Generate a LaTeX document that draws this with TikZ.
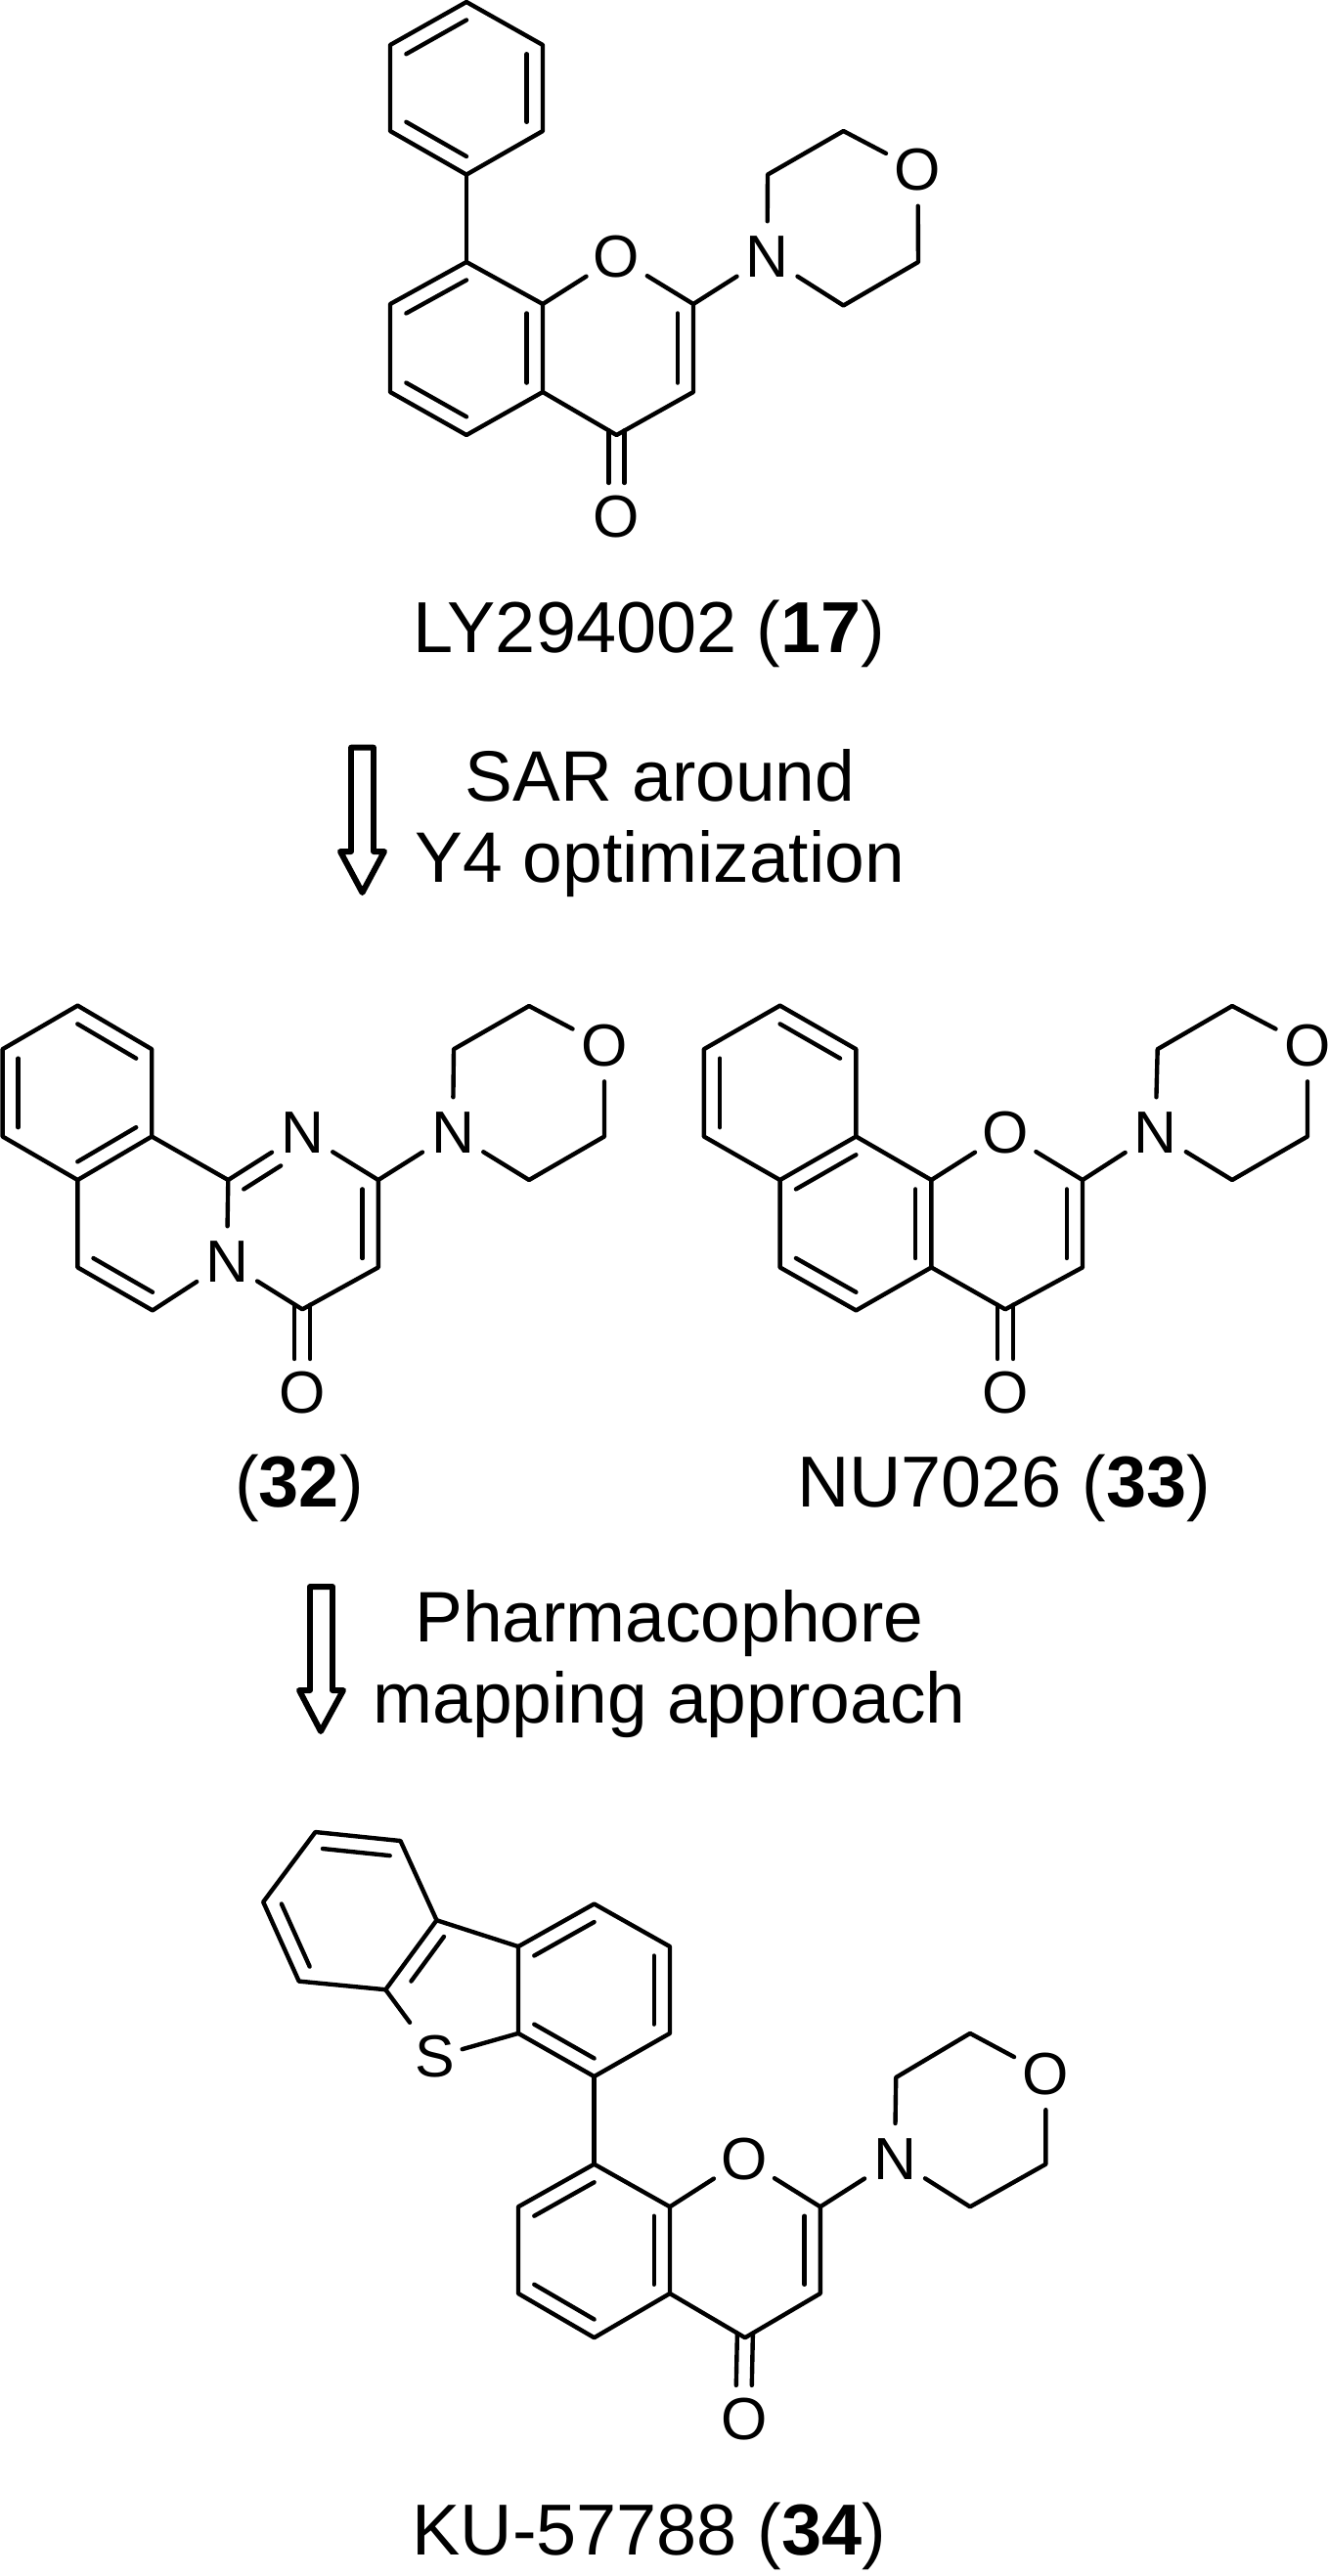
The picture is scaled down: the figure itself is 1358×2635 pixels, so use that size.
\documentclass[tikz,border=0pt]{standalone}
\usepackage{fontspec}
\setmainfont{Liberation Sans}
\usetikzlibrary{calc}

\tikzset{
	bond/.style={line width=1.25pt, line cap=round, line join=round},
	atom/.style={circle, inner sep=0pt, minimum size=0.72cm, font=\fontsize{17.3}{20}\selectfont},
	cpdname/.style={anchor=base, inner sep=0pt, font=\fontsize{21}{24}\selectfont},
	stepnote/.style={align=center, inner sep=0pt, font=\fontsize{20.8}{23.6}\selectfont},
	hollow/.style={line width=1.7pt, line join=round}
}

% inner line of a double bond, pulled towards the ring centre
\newcommand{\dblbond}[4][]{\draw[bond,#1] ($(#2)!0.21!(#4)$) -- ($(#3)!0.21!(#4)$);}
% carbonyl, two lines from the ring carbon to the oxygen
\newcommand{\cobond}[2]{
	\draw[bond] ($(#1)+(-8,-4.6)$) -- ($(#2)+(-8,-35)$);
	\draw[bond] ($(#1)+(8,-4.6)$) -- ($(#2)+(8,-35)$);
}

\begin{document}
\begin{tikzpicture}[x=0.01cm, y=-0.01cm]
	\useasboundingbox (0,0) rectangle (1358,2635);

	% LY294002
	\coordinate (pa) at (477,2);
	\coordinate (pb) at (555,46);
	\coordinate (pc) at (555,134);
	\coordinate (pd) at (477,178.6);
	\coordinate (pe) at (399,134);
	\coordinate (pf) at (399,46);
	\coordinate (pz) at (477,90);
	\coordinate (aa) at (477,268);
	\coordinate (ab) at (555,311);
	\coordinate (ac) at (555,401);
	\coordinate (ad) at (477,445);
	\coordinate (ae) at (399,401);
	\coordinate (af) at (399,311);
	\coordinate (az) at (477,356);
	\coordinate (ca) at (709,311);
	\coordinate (cb) at (709,401);
	\coordinate (cc) at (630.5,445);
	\coordinate (cz) at (632,356);
	\coordinate (ma) at (785,178.6);
	\coordinate (mb) at (862.5,134);
	\coordinate (mc) at (939,268);
	\coordinate (md) at (862.5,312.5);
	\node[atom] (oa) at (630.5,263) {O};
	\node[atom] (ob) at (630.5,529) {O};
	\node[atom] (na) at (784.5,263) {N};
	\node[atom] (oc) at (938.5,174) {O};

	\draw[bond] (pa) -- (pb) -- (pc) -- (pd) -- (pe) -- (pf) -- cycle;
	\draw[bond] (pd) -- (aa);
	\draw[bond] (aa) -- (ab) -- (ac) -- (ad) -- (ae) -- (af) -- cycle;
	\draw[bond] (ab) -- (oa) -- (ca) -- (cb) -- (cc) -- (ac);
	\draw[bond] (ca) -- (na) -- (ma) -- (mb) -- (oc) -- (mc) -- (md) -- (na);
	\dblbond{pf}{pa}{pz}
	\dblbond{pb}{pc}{pz}
	\dblbond{pd}{pe}{pz}
	\dblbond{af}{aa}{az}
	\dblbond{ab}{ac}{az}
	\dblbond{ad}{ae}{az}
	\dblbond{ca}{cb}{cz}
	\cobond{cc}{ob}

	\node[cpdname] (namea) at (663.7,667) {LY294002 (\textbf{17})};

	\draw[hollow] (359,764.7) -- (382,764.7) -- (382,871) -- (393,871) -- (370.5,913) -- (348,871) -- (359,871) -- cycle;
	\node[stepnote] (notea) at (675,842) {SAR around\\Y4 optimization};

	% compound 32
	\coordinate (qa) at (79.4,1028.6);
	\coordinate (qb) at (155.2,1073.2);
	\coordinate (qc) at (155.2,1162.5);
	\coordinate (qd) at (79.4,1207);
	\coordinate (qe) at (2.6,1162.5);
	\coordinate (qf) at (2.6,1073.2);
	\coordinate (qz) at (79,1118);
	\coordinate (ra) at (79.4,1296.4);
	\coordinate (rb) at (156,1340.4);
	\coordinate (rc) at (233.3,1207);
	\coordinate (rz) at (156,1251.7);
	\coordinate (sa) at (386.8,1207);
	\coordinate (sb) at (386.8,1296.4);
	\coordinate (sc) at (309.2,1339.3);
	\coordinate (sz) at (309.6,1251.7);
	\coordinate (ta) at (464,1073.2);
	\coordinate (tb) at (541,1029);
	\coordinate (tc) at (618,1162.5);
	\coordinate (td) at (541,1207);
	\node[atom] (nb) at (232,1291) {N};
	\node[atom] (nc) at (309,1159) {N};
	\node[atom] (nd) at (463,1159) {N};
	\node[atom] (od) at (618,1069.6) {O};
	\node[atom] (oe) at (309.2,1425) {O};

	\draw[bond] (qa) -- (qb) -- (qc) -- (qd) -- (qe) -- (qf) -- cycle;
	\draw[bond] (qd) -- (ra) -- (rb) -- (nb) -- (rc) -- (qc);
	\draw[bond] (rc) -- (nc) -- (sa) -- (sb) -- (sc) -- (nb);
	\draw[bond] (sa) -- (nd) -- (ta) -- (tb) -- (od) -- (tc) -- (td) -- (nd);
	\dblbond{qa}{qb}{qz}
	\dblbond{qe}{qf}{qz}
	\dblbond{qc}{qd}{qz}
	\dblbond{ra}{rb}{rz}
	\dblbond[shorten >=0.26cm]{rc}{nc}{sz}
	\dblbond{sa}{sb}{sz}
	\cobond{sc}{oe}

	\node[cpdname] (nameb) at (306,1541) {(\textbf{32})};

	% NU7026
	\coordinate (ua) at (797.6,1028.6);
	\coordinate (ub) at (875.4,1073.2);
	\coordinate (uc) at (875.4,1162.5);
	\coordinate (ud) at (797.6,1207);
	\coordinate (ue) at (719.8,1162.5);
	\coordinate (uf) at (719.8,1073.2);
	\coordinate (uz) at (797.6,1118);
	\coordinate (va) at (797.6,1296.4);
	\coordinate (vb) at (875.4,1340.4);
	\coordinate (vc) at (952.4,1296.4);
	\coordinate (vd) at (952.4,1207);
	\coordinate (vz) at (875.4,1251.7);
	\coordinate (wa) at (1107,1207);
	\coordinate (wb) at (1107,1296.4);
	\coordinate (wc) at (1028,1339.3);
	\coordinate (wz) at (1029.5,1251.7);
	\coordinate (xa) at (1183.7,1073.2);
	\coordinate (xb) at (1260,1029);
	\coordinate (xc) at (1337,1162.5);
	\coordinate (xd) at (1260,1207);
	\node[atom] (of) at (1028,1159) {O};
	\node[atom] (og) at (1028,1425) {O};
	\node[atom] (ne) at (1181.5,1159) {N};
	\node[atom] (oh) at (1337,1069.6) {O};

	\draw[bond] (ua) -- (ub) -- (uc) -- (ud) -- (ue) -- (uf) -- cycle;
	\draw[bond] (ud) -- (va) -- (vb) -- (vc) -- (vd) -- (uc);
	\draw[bond] (vd) -- (of) -- (wa) -- (wb) -- (wc) -- (vc);
	\draw[bond] (wa) -- (ne) -- (xa) -- (xb) -- (oh) -- (xc) -- (xd) -- (ne);
	\dblbond{ua}{ub}{uz}
	\dblbond{ue}{uf}{uz}
	\dblbond{uc}{ud}{vz}
	\dblbond{va}{vb}{vz}
	\dblbond{vc}{vd}{vz}
	\dblbond{wa}{wb}{wz}
	\cobond{wc}{og}

	\node[cpdname] (namec) at (1026.5,1541) {NU7026 (\textbf{33})};

	\draw[hollow] (317,1623) -- (340,1623) -- (340,1729) -- (351,1729) -- (328,1771) -- (306,1729) -- (317,1729) -- cycle;
	\node[stepnote] (noteb) at (684.5,1702) {Pharmacophore\\mapping approach};

	% KU-57788
	\coordinate (ka) at (322.5,1874);
	\coordinate (kb) at (409.5,1883);
	\coordinate (kc) at (446.5,1964.2);
	\coordinate (kd) at (394.3,2035.2);
	\coordinate (ke) at (305.7,2026.6);
	\coordinate (kf) at (269.2,1945.5);
	\coordinate (kz) at (358,1955);
	\coordinate (kt) at (482,2044);
	\coordinate (la) at (530,2079.9);
	\coordinate (lb) at (530,1991.1);
	\coordinate (lc) at (607.6,1947.5);
	\coordinate (ld) at (685,1991.1);
	\coordinate (le) at (685,2079.9);
	\coordinate (lf) at (607.6,2124);
	\coordinate (lz) at (607.6,2035.7);
	\coordinate (ga) at (607.6,2213.7);
	\coordinate (gb) at (685,2257.3);
	\coordinate (gc) at (685,2346);
	\coordinate (gd) at (607.6,2391.2);
	\coordinate (ge) at (530,2346);
	\coordinate (gf) at (530,2257.3);
	\coordinate (gz) at (607.6,2302);
	\coordinate (ha) at (838.8,2257.3);
	\coordinate (hb) at (838.8,2346);
	\coordinate (hc) at (761.9,2391.2);
	\coordinate (hz) at (761.9,2302);
	\coordinate (ya) at (916.2,2125);
	\coordinate (yb) at (992,2079.9);
	\coordinate (yc) at (1069.4,2213.7);
	\coordinate (yd) at (992,2257.3);
	\node[atom] (sul) at (445,2104) {S};
	\node[atom] (oi) at (760.8,2208.7) {O};
	\node[atom] (oj) at (760.8,2474.9) {O};
	\node[atom] (nf) at (915,2208.7) {N};
	\node[atom] (ok) at (1069.4,2121.4) {O};

	\draw[bond] (ka) -- (kb) -- (kc) -- (kd) -- (ke) -- (kf) -- cycle;
	\draw[bond] (kc) -- (lb);
	\draw[bond, shorten >=0.07cm] (kd) -- (sul);
	\draw[bond, shorten <=-0.08cm] (sul) -- (la);
	\draw[bond] (la) -- (lb) -- (lc) -- (ld) -- (le) -- (lf) -- cycle;
	\draw[bond] (lf) -- (ga);
	\draw[bond] (ga) -- (gb) -- (gc) -- (gd) -- (ge) -- (gf) -- cycle;
	\draw[bond] (gb) -- (oi) -- (ha) -- (hb) -- (hc) -- (gc);
	\draw[bond] (ha) -- (nf) -- (ya) -- (yb) -- (ok) -- (yc) -- (yd) -- (nf);
	\dblbond{ka}{kb}{kz}
	\dblbond{kf}{ke}{kz}
	\dblbond[shorten >=0.13cm]{kc}{kd}{kt}
	\dblbond{lb}{lc}{lz}
	\dblbond{ld}{le}{lz}
	\dblbond{la}{lf}{lz}
	\dblbond{gf}{ga}{gz}
	\dblbond{gb}{gc}{gz}
	\dblbond{ge}{gd}{gz}
	\dblbond{ha}{hb}{hz}
	\cobond{hc}{oj}

	\node[cpdname] (named) at (663.7,2613) {KU-57788 (\textbf{34})};
\end{tikzpicture}
\end{document}
